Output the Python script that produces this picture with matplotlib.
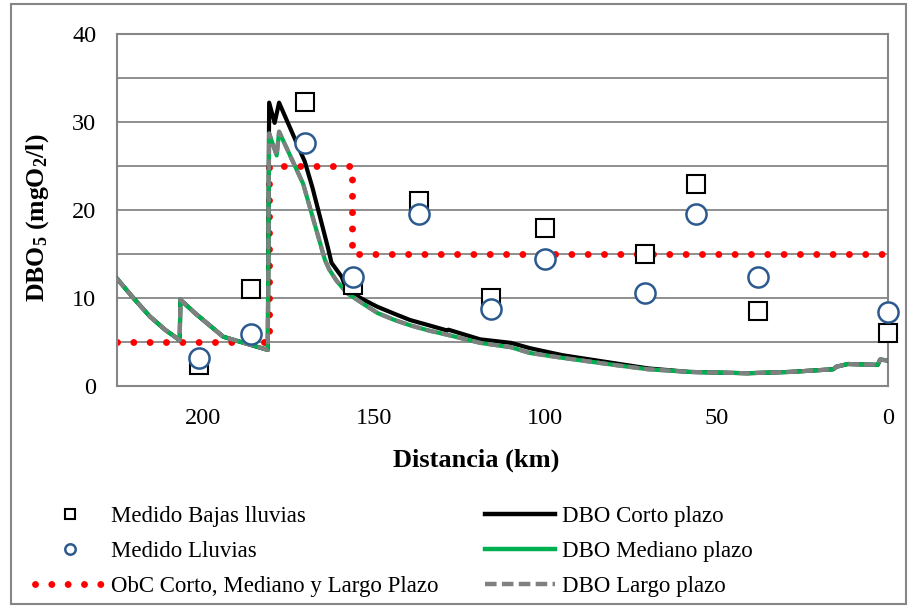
import matplotlib
matplotlib.use('Agg')
import matplotlib.pyplot as plt
from matplotlib.patches import Rectangle
from matplotlib.lines import Line2D

plt.rcParams['font.family'] = ['Liberation Serif', 'DejaVu Serif']
plt.rcParams['mathtext.fontset'] = 'custom'
plt.rcParams['mathtext.rm'] = 'Liberation Serif'
plt.rcParams['mathtext.bf'] = 'Liberation Serif:bold'

# measured points
dist_medido = [201, 186, 170, 156, 137, 116, 100, 71, 56, 38, 0]
dbo_bajas = [2.4, 11.0, 32.3, 11.5, 21.0, 10.0, 18.0, 15.0, 23.0, 8.5, 6.0]
dbo_lluvias = [3.2, 5.9, 27.6, 12.4, 19.6, 8.7, 14.4, 10.6, 19.6, 12.4, 8.4]

# objetivo de calidad
dist_obc = [225, 180.5, 180.5, 156.5, 156.5, 0]
dbo_obc = [5, 5, 25, 25, 15, 15]

# modelled DBO, short term
dist_corto = [225, 220, 215.4, 211, 206.7, 206.5, 202, 198, 194, 188, 181, 180.6, 179, 177.7,
              170.2, 168, 163.5, 162.4, 159.4, 158, 153, 149, 144, 139.5, 134, 128.6, 128.3,
              119, 110, 104.5, 95, 80, 70, 58, 41, 28.6, 16, 15, 11.7, 3, 2.3, 0]
dbo_corto = [12.2, 9.9, 7.9, 6.4, 5.2, 9.8, 8.2, 6.9, 5.6, 4.9, 4.1, 32.2, 29.9, 32.2,
             25.5, 22.6, 15.8, 14.0, 12.4, 10.9, 9.8, 9.0, 8.2, 7.5, 6.9, 6.3, 6.4,
             5.3, 4.9, 4.3, 3.5, 2.6, 2.0, 1.6, 1.45, 1.6, 1.9, 2.2, 2.5, 2.4, 3.0, 2.9]

# modelled DBO, medium and long term
dist_ml = [225, 220, 215.4, 211, 206.7, 206.5, 202, 198, 194, 188, 181, 180.6, 178.4, 177.7,
           170.7, 164.3, 163, 161, 158, 153, 149, 144, 139.5, 134, 128.4, 119, 110, 104.5,
           95, 80, 70, 58, 41, 28.6, 16, 15, 11.7, 3, 2.3, 0]
dbo_mediano = [12.2, 9.9, 7.9, 6.4, 5.2, 9.8, 8.2, 6.9, 5.6, 4.9, 4.1, 28.7, 26.2, 28.9,
               23.0, 14.3, 13.2, 12.0, 10.6, 9.3, 8.3, 7.5, 6.9, 6.3, 5.8, 4.9, 4.4, 3.75,
               3.2, 2.4, 1.9, 1.6, 1.45, 1.6, 1.9, 2.2, 2.5, 2.4, 3.0, 2.9]
dbo_largo = [12.2, 9.9, 7.9, 6.4, 5.2, 9.8, 8.2, 6.9, 5.6, 4.9, 4.1, 28.7, 26.2, 28.9,
             23.0, 14.3, 13.2, 12.0, 10.6, 9.3, 8.3, 7.5, 6.9, 6.3, 5.8, 4.9, 4.4, 3.75,
             3.2, 2.4, 1.9, 1.6, 1.45, 1.6, 1.9, 2.2, 2.5, 2.4, 3.0, 2.9]

x_ticks = [200, 150, 100, 50, 0]
y_ticks = [0, 10, 20, 30, 40]

grid_col = '#868686'
blue = '#2C5A8E'
dots = (0, (0.001, 2.35))
dashes = (0, (2.6, 1.2))

fig = plt.figure(figsize=(9.08, 6.06), dpi=100)
ax = fig.add_axes([117 / 908, 1 - 386 / 606, (888 - 117) / 908, (386 - 34) / 606])

for yv in range(5, 40, 5):
    ax.axhline(yv, color=grid_col, lw=1.3, zorder=1)

ax.plot(dist_obc, dbo_obc, color='#FF0000', lw=5, linestyle=dots,
        dash_capstyle='round', zorder=2)
ax.plot(dist_corto, dbo_corto, color='black', lw=3, zorder=3)
ax.plot(dist_ml, dbo_mediano, color='#00B050', lw=3, zorder=4)
ax.plot(dist_ml, dbo_largo, color='#808080', lw=3, linestyle=dashes, zorder=5)

ax.plot(dist_medido, dbo_bajas, linestyle='none', marker='s', ms=13.5, mfc='white',
        mec='black', mew=1.5, zorder=6, clip_on=False)
ax.plot(dist_medido, dbo_lluvias, linestyle='none', marker='o', ms=14.5, mfc='white',
        mec=blue, mew=1.8, zorder=7, clip_on=False)

ax.set_xlim(225, 0)
ax.set_ylim(0, 40)
ax.set_xticks(x_ticks)
ax.set_yticks(y_ticks)
ax.tick_params(axis='both', length=0, labelsize=17.5)
ax.tick_params(axis='x', pad=16)
ax.tick_params(axis='y', pad=15)
for s in ax.spines.values():
    s.set_color(grid_col)
    s.set_linewidth(1.5)

fig.text(476 / 908, 1 - 460 / 606, 'Distancia (km)', fontsize=19, fontweight='bold',
         ha='center', va='center')
fig.text(38 / 908, 1 - 218 / 606, r'$\mathbf{DBO_5}$ $\mathbf{(mgO_2/l)}$', fontsize=18.5,
         rotation=90, ha='center', va='center')

handles = [
    Line2D([], [], linestyle='none', marker='s', ms=7.5, mfc='white', mec='black', mew=1.5),
    Line2D([], [], linestyle='none', marker='o', ms=7.5, mfc='white', mec=blue, mew=1.8),
    Line2D([], [], color='#FF0000', lw=5, linestyle=dots, dash_capstyle='round'),
    Line2D([], [], color='black', lw=3.2),
    Line2D([], [], color='#00B050', lw=3.2),
    Line2D([], [], color='#808080', lw=3.2, linestyle=dashes),
]
labels = ['Medido Bajas lluvias', 'Medido Lluvias', 'ObC Corto, Mediano y Largo Plazo',
          'DBO Corto plazo', 'DBO Mediano plazo', 'DBO Largo plazo']
fig.legend(handles, labels, ncol=2, loc='upper left', bbox_to_anchor=(14 / 908, 1 - 485 / 606),
           frameon=False, fontsize=16.5, handlelength=3.05, handletextpad=0.3,
           columnspacing=2.0, labelspacing=0.62)

fig.patches.append(Rectangle((11 / 908, 2 / 606), (906 - 11) / 908, (602 - 2) / 606,
                             transform=fig.transFigure, fill=False, edgecolor=grid_col, lw=1.5))

fig.savefig('out.png', dpi=100)
